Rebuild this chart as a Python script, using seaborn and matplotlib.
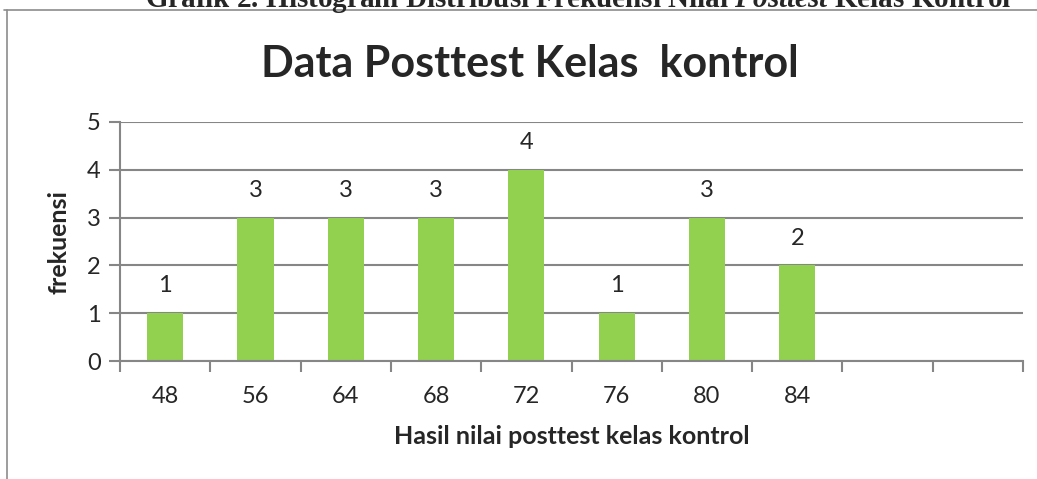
import numpy as np
import pandas as pd
import matplotlib
matplotlib.use("Agg")
import matplotlib.pyplot as plt
import seaborn as sns
from matplotlib.lines import Line2D

nilai = ["48", "56", "64", "68", "72", "76", "80", "84"]
frekuensi = [1, 3, 3, 3, 4, 1, 3, 2]
n_slot = 10  # excel axis keeps two empty categories at the right

df = pd.DataFrame({"nilai": nilai, "frekuensi": frekuensi})

sns.set_style("white")
plt.rcParams["font.family"] = ["Lato", "DejaVu Sans"]

fig = plt.figure(figsize=(10.37, 4.79), dpi=100)
ax = fig.add_axes([120 / 1037, 1 - 361 / 479, (1023 - 120) / 1037, (361 - 122) / 479])

sns.barplot(data=df, x="nilai", y="frekuensi", color="#92D050", saturation=1,
            width=0.4, ax=ax, order=nilai, linewidth=0)

grid_c = "#868686"
ax.set_ylim(0, 5)
ax.set_xlim(-0.5, n_slot - 0.5)
ax.set_yticks(range(0, 6))
ax.yaxis.grid(True, color=grid_c, linewidth=1.5)
ax.set_axisbelow(True)
for s in ["top", "right"]:
    ax.spines[s].set_visible(False)
for s in ["left", "bottom"]:
    ax.spines[s].set_color(grid_c)
    ax.spines[s].set_linewidth(1.5)

ax.set_xticks(np.arange(-0.5, n_slot, 1))
ax.set_xticklabels([])
ax.set_xticks(range(len(nilai)), minor=True)
ax.set_xticklabels(nilai, minor=True, fontsize=17)
ax.tick_params(axis="x", which="major", bottom=True, length=8, width=1.5, color=grid_c, direction="out")
ax.tick_params(axis="x", which="minor", bottom=True, length=0, pad=18)
ax.tick_params(axis="y", left=True, length=8, width=1.5, color=grid_c, direction="out", labelsize=17, pad=6)

for i, v in enumerate(frekuensi):
    ax.text(i, v + 0.35, str(v), ha="center", va="bottom", fontsize=17)

ax.set_xlabel("Hasil nilai posttest kelas kontrol", fontsize=18, fontweight="bold", labelpad=13)
ax.set_ylabel("frekuensi", fontsize=18, fontweight="bold", labelpad=12)

fig.text(530 / 1037, 1 - 64 / 479, "Data Posttest Kelas  kontrol", ha="center", va="center",
         fontsize=31, fontweight="bold")

# caption of the document page, cut off at the top edge
plt.rcParams["mathtext.fontset"] = "custom"
plt.rcParams["mathtext.it"] = "Liberation Serif:italic:bold"
plt.rcParams["mathtext.rm"] = "Liberation Serif:bold"
fig.text(578 / 1037, 1 - 7 / 479, "Grafik 2. Histogram Distribusi Frekuensi Nilai $\\mathit{Posttest}$ Kelas Kontrol",
         ha="center", va="baseline", fontsize=21, fontweight="bold", family="Liberation Serif")

# chart frame
fig.add_artist(Line2D([4 / 1037, 1], [1 - 10 / 479] * 2, color="#8c8c8c", linewidth=1.2))
fig.add_artist(Line2D([7 / 1037] * 2, [0, 1 - 10 / 479], color="#8c8c8c", linewidth=1.2))

fig.savefig("out.png", dpi=100)
